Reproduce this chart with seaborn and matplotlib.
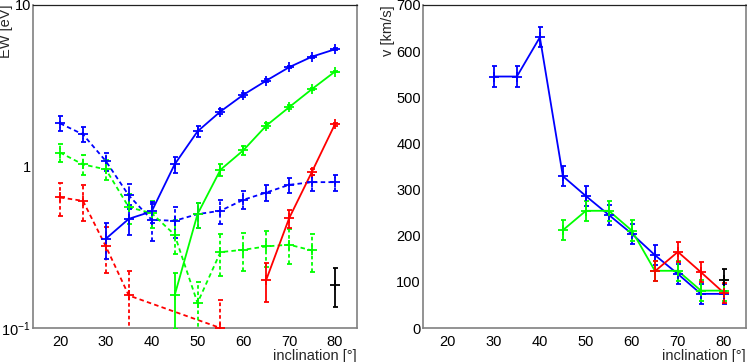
import matplotlib
matplotlib.use("Agg")
import matplotlib.pyplot as plt
import seaborn as sns
import pandas as pd
from matplotlib.ticker import MultipleLocator, FixedLocator, FixedFormatter, NullFormatter

# ---------------- data: left panel (EW) ----------------
ew_blue_solid_x = [30, 35, 40, 45, 50, 55, 60, 65, 70, 75, 80]
ew_blue_solid_y = [0.357, 0.474, 0.527, 1.03, 1.65, 2.19, 2.78, 3.40, 4.12, 4.79, 5.32]
ew_blue_solid_e = [0.09, 0.10, 0.08, 0.12, 0.12, 0.08, 0.07, 0.06, 0.06, 0.06, 0.06]

ew_blue_dash_x = [20, 25, 30, 35, 40, 45, 50, 55, 60, 65, 70, 75, 80]
ew_blue_dash_y = [1.85, 1.58, 1.08, 0.662, 0.468, 0.461, 0.507, 0.532, 0.622, 0.690, 0.770, 0.800, 0.800]
ew_blue_dash_e = [0.20, 0.17, 0.14, 0.12, 0.12, 0.10, 0.09, 0.09, 0.08, 0.08, 0.08, 0.09, 0.09]

ew_green_solid_x = [45, 50, 55, 60, 65, 70, 75, 80]
ew_green_solid_y = [0.159, 0.507, 0.954, 1.26, 1.79, 2.33, 3.02, 3.87]
ew_green_solid_e = [0.06, 0.09, 0.08, 0.08, 0.06, 0.06, 0.05, 0.05]

ew_green_dash_x = [20, 25, 30, 35, 40, 45, 50, 55, 60, 65, 70, 75]
ew_green_dash_y = [1.22, 1.03, 0.96, 0.56, 0.514, 0.378, 0.143, 0.295, 0.305, 0.320, 0.328, 0.302]
ew_green_dash_e = [0.15, 0.15, 0.14, 0.12, 0.10, 0.09, 0.05, 0.085, 0.08, 0.08, 0.08, 0.08]

ew_red_solid_x = [65, 70, 75, 80]
ew_red_solid_y = [0.199, 0.479, 0.931, 1.83]
ew_red_solid_e = [0.055, 0.06, 0.04, 0.04]

ew_red_dash_x = [20, 25, 30, 35, 55]
ew_red_dash_y = [0.643, 0.613, 0.320, 0.159, 0.100]
ew_red_dash_e = [0.15, 0.15, 0.10, 0.065, 0.05]

ew_black_x = [80]
ew_black_y = [0.184]
ew_black_e = [0.05]

# ---------------- data: right panel (velocity) ----------------
v_blue_x = [30, 35, 40, 45, 50, 55, 60, 65, 70, 75, 80]
v_blue_y = [545, 545, 630, 329, 286, 245, 204, 158, 117, 74, 74]
v_blue_e = [22] * 11

v_green_x = [45, 50, 55, 60, 65, 70, 75, 80]
v_green_y = [212, 254, 254, 211, 124, 124, 81, 81]
v_green_e = [22] * 8

v_red_x = [65, 70, 75, 80]
v_red_y = [123, 165, 121, 76]
v_red_e = [22] * 4

v_black_x = [80]
v_black_y = [104]
v_black_e = [23]

BLUE, GREEN, RED, BLACK = "#0000ff", "#00ff00", "#ff0000", "#000000"

sns.set_style("white")
plt.rcParams["font.family"] = ["Liberation Sans", "DejaVu Sans"]
plt.rcParams["mathtext.fontset"] = "custom"
plt.rcParams["mathtext.rm"] = "Liberation Sans"
plt.rcParams["mathtext.it"] = "Liberation Sans"
plt.rcParams["font.size"] = 10.5

fig = plt.figure(figsize=(7.47, 3.62), dpi=100)
W, H = 747.0, 362.0
axL = fig.add_axes([33 / W, (H - 328) / H, (357 - 33) / W, (328 - 5) / H])
axR = fig.add_axes([423 / W, (H - 328) / H, (746 - 423) / W, (328 - 5) / H])

DASH = (0, (2.5, 1.8))


def series(ax, x, y, e, color, dashed=False, line=True):
    df = pd.DataFrame({"x": x, "y": y})
    ls = DASH if dashed else "-"
    if line:
        sns.lineplot(data=df, x="x", y="y", ax=ax, color=color, lw=1.3,
                     linestyle=ls, estimator=None, sort=False, zorder=3)
    cont = ax.errorbar(x, y, yerr=e, fmt="+", color=color, ms=7, mew=1.3,
                       elinewidth=1.3, capsize=1.8, capthick=1.3, zorder=4)
    if dashed:
        for lc in cont[2]:
            lc.set_linestyle((0, (2.0, 1.5)))


# left panel
series(axL, ew_blue_dash_x, ew_blue_dash_y, ew_blue_dash_e, BLUE, dashed=True)
series(axL, ew_green_dash_x, ew_green_dash_y, ew_green_dash_e, GREEN, dashed=True)
series(axL, ew_red_dash_x, ew_red_dash_y, ew_red_dash_e, RED, dashed=True)
series(axL, ew_blue_solid_x, ew_blue_solid_y, ew_blue_solid_e, BLUE)
series(axL, ew_green_solid_x, ew_green_solid_y, ew_green_solid_e, GREEN)
series(axL, ew_red_solid_x, ew_red_solid_y, ew_red_solid_e, RED)
series(axL, ew_black_x, ew_black_y, ew_black_e, BLACK, line=False)

axL.set_yscale("log")
axL.set_ylim(0.1, 10)
axL.set_xlim(14.1, 84.8)
axL.yaxis.set_major_locator(FixedLocator([0.1, 1, 10]))
axL.yaxis.set_major_formatter(FixedFormatter(["$10^{-1}$", "1", "10"]))
minors = [m * d for d in (0.1, 1) for m in range(2, 10)]
axL.yaxis.set_minor_locator(FixedLocator(minors))
axL.yaxis.set_minor_formatter(NullFormatter())

# right panel
series(axR, v_blue_x, v_blue_y, v_blue_e, BLUE)
series(axR, v_green_x, v_green_y, v_green_e, GREEN)
series(axR, v_red_x, v_red_y, v_red_e, RED)
series(axR, v_black_x, v_black_y, v_black_e, BLACK, line=False)

axR.set_ylim(0, 700)
axR.set_xlim(14.6, 84.8)
axR.yaxis.set_major_locator(MultipleLocator(100))
axR.yaxis.set_minor_locator(MultipleLocator(20))

for ax, ylab, lx in ((axL, "EW [eV]", -0.062), (axR, "v [km/s]", -0.087)):
    ax.xaxis.set_major_locator(MultipleLocator(10))
    ax.xaxis.set_minor_locator(MultipleLocator(2))
    ax.tick_params(which="both", direction="in", color="#808080", width=1,
                   top=False, right=False, labelcolor="black", labelsize=10.5)
    ax.tick_params(which="major", length=8)
    ax.tick_params(which="minor", length=4)
    ax.tick_params(axis="x", which="major", pad=5)
    ax.tick_params(axis="y", which="major", pad=1.5)
    for side in ("left", "bottom"):
        ax.spines[side].set_color("#808080")
        ax.spines[side].set_linewidth(1.2)
    ax.spines["right"].set_color("#808080")
    ax.spines["right"].set_linewidth(1.2)
    ax.spines["top"].set_color("#222222")
    ax.spines["top"].set_linewidth(0.9)
    for s in ax.spines.values():
        s.set_visible(True)
    ax.set_xlabel("inclination [°]", loc="right", fontsize=10.5, labelpad=0)
    ax.set_ylabel(ylab, loc="top", fontsize=10.5)
    ax.yaxis.set_label_coords(lx, 1.0)

fig.savefig("out.png", dpi=100)
